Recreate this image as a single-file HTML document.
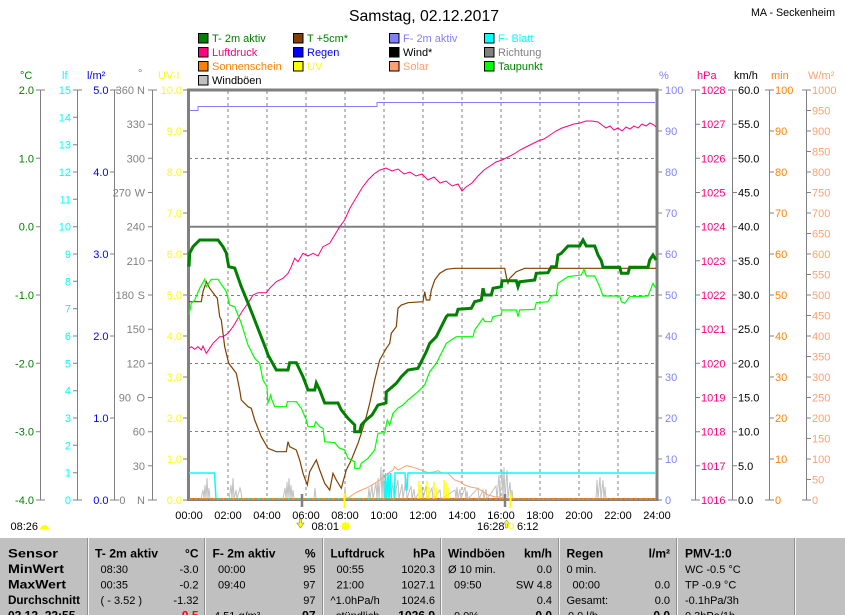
<!DOCTYPE html>
<html><head><meta charset="utf-8"><style>
html,body{margin:0;padding:0;background:#fff;}
svg{display:block;font-family:"Liberation Sans",Arial,sans-serif;}
</style></head><body>
<svg width="845" height="615" viewBox="0 0 845 615" xmlns="http://www.w3.org/2000/svg">
<rect width="845" height="615" fill="#fff"/>
<!-- title -->
<text x="349" y="21" font-size="16" textLength="150" lengthAdjust="spacingAndGlyphs">Samstag, 02.12.2017</text>
<text x="751" y="16" font-size="11" textLength="84" lengthAdjust="spacingAndGlyphs">MA - Seckenheim</text>

<!-- legend -->
<g font-size="11" stroke="#000" stroke-width="1">
<rect x="198.5" y="33.5" width="9.5" height="9.5" fill="#008000"/>
<rect x="198.5" y="47.5" width="9.5" height="9.5" fill="#FF0080"/>
<rect x="198.5" y="61.5" width="9.5" height="9.5" fill="#FF8000"/>
<rect x="198.5" y="75.5" width="9.5" height="9.5" fill="#C0C0C0"/>
<rect x="293.5" y="33.5" width="9.5" height="9.5" fill="#804000"/>
<rect x="293.5" y="47.5" width="9.5" height="9.5" fill="#0000FF"/>
<rect x="293.5" y="61.5" width="9.5" height="9.5" fill="#FFFF00"/>
<rect x="389.5" y="33.5" width="9.5" height="9.5" fill="#8080FF"/>
<rect x="389.5" y="47.5" width="9.5" height="9.5" fill="#000000"/>
<rect x="389.5" y="61.5" width="9.5" height="9.5" fill="#FFA070"/>
<rect x="484.5" y="33.5" width="9.5" height="9.5" fill="#00FFFF"/>
<rect x="484.5" y="47.5" width="9.5" height="9.5" fill="#808080"/>
<rect x="484.5" y="61.5" width="9.5" height="9.5" fill="#00FF00"/>
</g>
<g font-size="11">
<text x="212" y="42" fill="#008000">T- 2m aktiv</text>
<text x="212" y="56" fill="#FF0080">Luftdruck</text>
<text x="212" y="70" fill="#FF8000">Sonnenschein</text>
<text x="212" y="84" fill="#000">Windböen</text>
<text x="307" y="42" fill="#008000">T +5cm*</text>
<text x="307" y="56" fill="#0000FF">Regen</text>
<text x="307" y="70" fill="#FFFF00">UV</text>
<text x="403" y="42" fill="#8080FF">F- 2m aktiv</text>
<text x="403" y="56" fill="#000">Wind*</text>
<text x="403" y="70" fill="#FFA070">Solar</text>
<text x="498" y="42" fill="#00FFFF">F- Blatt</text>
<text x="498" y="56" fill="#808080">Richtung</text>
<text x="498" y="70" fill="#008000">Taupunkt</text>
</g>

<!-- axis headers -->
<g font-size="11">
<text x="20" y="79" fill="#008000">°C</text>
<text x="62" y="79" fill="#00FFFF">lf</text>
<text x="87" y="79" fill="#0000FF">l/m²</text>
<text x="138" y="77" fill="#808080">°</text>
<text x="158" y="79" fill="#FFFF00">UV-I</text>
<text x="659" y="79" fill="#8080FF">%</text>
<text x="697" y="79" fill="#FF0080">hPa</text>
<text x="734" y="79" fill="#000">km/h</text>
<text x="771" y="79" fill="#FF8000">min</text>
<text x="808" y="79" fill="#FFA070">W/m²</text>
</g>

<!-- gridlines -->
<g stroke="#808080" stroke-width="1" stroke-dasharray="3,3" fill="none">
<path d="M189,158.5H657 M189,295.5H657 M189,363.5H657 M189,431.5H657"/>
<path d="M228,91V499 M267,91V499 M306,91V499 M345,91V499 M384,91V499 M423,91V499 M462,91V499 M501,91V499 M540,91V499 M579,91V499 M618,91V499"/>
</g>
<path d="M189,226.7H657" stroke="#808080" stroke-width="2"/>

<!-- frame -->
<rect x="188.5" y="90" width="468.5" height="409.5" fill="none" stroke="#808080" stroke-width="3"/>

<!-- left axes -->
<g stroke="#808080" stroke-width="1" fill="none">
<path d="M40.5,90V500 M36,90H45 M36,500H45 M36,158.3H40 M36,226.7H40 M36,295H40 M36,363.3H40 M36,431.7H40"/>
<path d="M77.5,90V500 M73,90H82 M73,500H82 M73,117.3H77 M73,144.7H77 M73,172H77 M73,199.3H77 M73,226.7H77 M73,254H77 M73,281.3H77 M73,308.7H77 M73,336H77 M73,363.3H77 M73,390.7H77 M73,418H77 M73,445.3H77 M73,472.7H77"/>
<path d="M114.5,90V500 M110,90H119 M110,500H119 M110,172H114 M110,254H114 M110,336H114 M110,418H114"/>
<path d="M152.5,90V500 M148,90H157 M148,500H157 M148,124.2H152 M148,158.3H152 M148,192.5H152 M148,226.7H152 M148,260.8H152 M148,295H152 M148,329.2H152 M148,363.3H152 M148,397.5H152 M148,431.7H152 M148,465.8H152"/>
<path d="M183,90H188 M183,131H188 M183,172H188 M183,213H188 M183,254H188 M183,295H188 M183,336H188 M183,377H188 M183,418H188 M183,459H188 M183,500H188"/>
</g>
<g font-size="11" text-anchor="end">
<g fill="#008000">
<text x="34" y="94">2.0</text><text x="34" y="162.3">1.0</text><text x="34" y="230.7">0.0</text><text x="34" y="299">-1.0</text><text x="34" y="367.3">-2.0</text><text x="34" y="435.7">-3.0</text><text x="34" y="504">-4.0</text>
</g>
<g fill="#00FFFF">
<text x="71" y="94">15</text><text x="71" y="121.3">14</text><text x="71" y="148.7">13</text><text x="71" y="176">12</text><text x="71" y="203.3">11</text><text x="71" y="230.7">10</text><text x="71" y="258">9</text><text x="71" y="285.3">8</text><text x="71" y="312.7">7</text><text x="71" y="340">6</text><text x="71" y="367.3">5</text><text x="71" y="394.7">4</text><text x="71" y="422">3</text><text x="71" y="449.3">2</text><text x="71" y="476.7">1</text><text x="71" y="504">0</text>
</g>
<g fill="#0000FF">
<text x="108.5" y="94">5.0</text><text x="108.5" y="176">4.0</text><text x="108.5" y="258">3.0</text><text x="108.5" y="340">2.0</text><text x="108.5" y="422">1.0</text><text x="108.5" y="504">0.0</text>
</g>
<g fill="#808080">
<text x="145" y="128.2">330</text><text x="145" y="162.3">300</text><text x="145" y="230.7">240</text><text x="145" y="264.8">210</text><text x="145" y="333.2">150</text><text x="145" y="367.3">120</text><text x="145" y="435.7">60</text><text x="145" y="469.8">30</text>
<text x="145" y="94">N</text><text x="145" y="196.5">W</text><text x="145" y="299">S</text><text x="145" y="401.5">O</text><text x="145" y="504">N</text>
<text x="134" y="94">360</text><text x="131" y="196.5">270</text><text x="134" y="299">180</text><text x="131" y="401.5">90</text><text x="125.5" y="504">0</text>
</g>
<g fill="#FFFF00">
<text x="182" y="94">10.0</text><text x="182" y="135">9.0</text><text x="182" y="176">8.0</text><text x="182" y="217">7.0</text><text x="182" y="258">6.0</text><text x="182" y="299">5.0</text><text x="182" y="340">4.0</text><text x="182" y="381">3.0</text><text x="182" y="422">2.0</text><text x="182" y="463">1.0</text><text x="182" y="504">0.0</text>
</g>
</g>

<!-- right axes -->
<g stroke="#808080" stroke-width="1" fill="none">
<path d="M657,90H662 M657,131H662 M657,172H662 M657,213H662 M657,254H662 M657,295H662 M657,336H662 M657,377H662 M657,418H662 M657,459H662 M657,500H662"/>
<path d="M695.5,90V500 M691,90H700 M691,500H700 M695,124.2H700 M695,158.3H700 M695,192.5H700 M695,226.7H700 M695,260.8H700 M695,295H700 M695,329.2H700 M695,363.3H700 M695,397.5H700 M695,431.7H700 M695,465.8H700"/>
<path d="M732.5,90V500 M728,90H737 M728,500H737 M732,124.2H737 M732,158.3H737 M732,192.5H737 M732,226.7H737 M732,260.8H737 M732,295H737 M732,329.2H737 M732,363.3H737 M732,397.5H737 M732,431.7H737 M732,465.8H737"/>
<path d="M769.5,90V500 M765,90H774 M765,500H774 M769,131H774 M769,172H774 M769,213H774 M769,254H774 M769,295H774 M769,336H774 M769,377H774 M769,418H774 M769,459H774"/>
<path d="M806.5,90V500 M802,90H811 M802,500H811 M806,110.5H811 M806,131H811 M806,151.5H811 M806,172H811 M806,192.5H811 M806,213H811 M806,233.5H811 M806,254H811 M806,274.5H811 M806,295H811 M806,315.5H811 M806,336H811 M806,356.5H811 M806,377H811 M806,397.5H811 M806,418H811 M806,438.5H811 M806,459H811 M806,479.5H811"/>
</g>
<g font-size="11">
<g fill="#8080FF">
<text x="665" y="94">100</text><text x="665" y="135">90</text><text x="665" y="176">80</text><text x="665" y="217">70</text><text x="665" y="258">60</text><text x="665" y="299">50</text><text x="665" y="340">40</text><text x="665" y="381">30</text><text x="665" y="422">20</text><text x="665" y="463">10</text><text x="665" y="504">0</text>
</g>
<g fill="#FF0080">
<text x="701" y="94">1028</text><text x="701" y="128.2">1027</text><text x="701" y="162.3">1026</text><text x="701" y="196.5">1025</text><text x="701" y="230.7">1024</text><text x="701" y="264.8">1023</text><text x="701" y="299">1022</text><text x="701" y="333.2">1021</text><text x="701" y="367.3">1020</text><text x="701" y="401.5">1019</text><text x="701" y="435.7">1018</text><text x="701" y="469.8">1017</text><text x="701" y="504">1016</text>
</g>
<g fill="#000">
<text x="738" y="94">60.0</text><text x="738" y="128.2">55.0</text><text x="738" y="162.3">50.0</text><text x="738" y="196.5">45.0</text><text x="738" y="230.7">40.0</text><text x="738" y="264.8">35.0</text><text x="738" y="299">30.0</text><text x="738" y="333.2">25.0</text><text x="738" y="367.3">20.0</text><text x="738" y="401.5">15.0</text><text x="738" y="435.7">10.0</text><text x="738" y="469.8">5.0</text><text x="738" y="504">0.0</text>
</g>
<g fill="#FF8000">
<text x="775" y="94">100</text><text x="775" y="135">90</text><text x="775" y="176">80</text><text x="775" y="217">70</text><text x="775" y="258">60</text><text x="775" y="299">50</text><text x="775" y="340">40</text><text x="775" y="381">30</text><text x="775" y="422">20</text><text x="775" y="463">10</text><text x="775" y="504">0</text>
</g>
<g fill="#FFA070">
<text x="812" y="94">1000</text><text x="812" y="114.5">950</text><text x="812" y="135">900</text><text x="812" y="155.5">850</text><text x="812" y="176">800</text><text x="812" y="196.5">750</text><text x="812" y="217">700</text><text x="812" y="237.5">650</text><text x="812" y="258">600</text><text x="812" y="278.5">550</text><text x="812" y="299">500</text><text x="812" y="319.5">450</text><text x="812" y="340">400</text><text x="812" y="360.5">350</text><text x="812" y="381">300</text><text x="812" y="401.5">250</text><text x="812" y="422">200</text><text x="812" y="442.5">150</text><text x="812" y="463">100</text><text x="812" y="483.5">50</text><text x="812" y="504">0</text>
</g>
</g>

<!-- data series -->
<g fill="none" stroke-linejoin="miter">
<!-- humidity -->
<polyline stroke="#8080FF" stroke-width="1" points="190,110.5 198,110.5 198,106.5 377,106.5 377,102.5 655,102.5"/>
<!-- wind gusts -->
<polyline stroke="#C0C0C0" stroke-width="1" points="201,499 203,490 204,499 205,485 206,499 207,478 208,499 209,488 210,499 229,499 231,485 232,499 233,478 234,499 236,490 237,499 240,488 241,492 242,499 283,499 285,488 286,499 287,482 288,499 289,478 290,499 291,485 292,499 293,490 294,499 314,499 315,488 316,499 344,499 345,487 346,499 368,499 369,488 370,499 372,485 373,499 376,483 377,499 378,478 379,499 381,467 382,499 383,470 384,499 385,475 386,499 390,478 391,499 393,482 394,499 398,480 399,499 402,484 403,499 406,478 407,499 411,486 412,499 414,489 415,499 422,488 423,499 426,486 427,499 432,488 433,499 440,490 441,499 455,490 456,499 457,487 458,499 460,489 461,499 465,487 466,499 467,491 468,499 478,488 479,499 483,490 484,499 486,489 487,499 496,486 497,499 499,475 500,499 502,470 503,499 504,467 505,499 507,470 508,499 510,482 511,499 512,490 513,499 596,499 597,480 598,499 600,477 601,499 603,480 604,499 605,487 606,499"/>
<!-- UV -->
<g stroke="#FFFF00" stroke-width="1.5">
<path d="M419,499V481 M421,499V485 M427,499V481 M429,499V487 M434,499V482 M436,499V488 M444,499V480 M446,499V482 M448,499V488"/>
</g>
<!-- solar -->
<polyline stroke="#FFA070" stroke-width="1" points="344.7,499 348,498 354.7,493.3 361.3,490 368,487.3 374.7,483.3 379.7,480 384.7,476.7 388,473.3 393,470 394.7,466.7 398,470 401.3,468.3 406.3,465.7 411.3,466.7 416.3,468.3 421.3,470 428,472.7 434.7,471.7 438,470.7 441.3,472.7 448,473.3 451.3,476.7 454.7,480 459.7,481.7 464.7,485 471.3,487.3 478,488.3 483,491.7 488,495 494.7,496.7 501.3,497.3 508,499"/>
<!-- leaf wetness -->
<polyline stroke="#00FFFF" stroke-width="1.5" points="189,473 214.5,473 216,499 385,499 385.5,473 386.5,499 388,473 389,499 390.5,473 391.5,499 394.5,499 395,473 405,473 406,490 407,490 408,473 656,473"/>
<!-- pressure -->
<polyline stroke="#FF0080" stroke-width="1" points="189,348.3 191.3,346.7 194.7,349.3 198,346.7 201.3,350 203,346 206.3,353.3 209.7,348.3 213,343.3 219.7,336.7 223,336.7 228,333.3 233,326.7 238,318.3 243,310 248,303.3 253,295 258,292.7 266.3,292.7 269.7,288.3 276.3,281.7 283,278.3 288,273.3 291.3,266.7 294.7,258.3 298,261.7 303,253.3 308,256 313,253.3 318,256 323,246.7 329.7,243.3 334.7,235 339.7,226.7 344.7,220 350,208 356,198 362,188 368,180 374,174 380,170 386,168 392,171 398,169 404,174 410,172 416,176 422,174 428,180 434,177 440,183 446,181 452,186 458,184 462,191 466,187 472,183 478,176 484,170 490,166 496,162 502,160 508,157 514,154 520,150 526,147 532,144 538,141 544,139 550,135 556,131 562,128 568,126 574,124 580,123 586,121 592,121 598,122 602,125 606,128 610,126 614,130 618,128 622,131 626,127 630,129 634,126 638,128 642,124 646,126 650,123 654,125 656,127"/>
<!-- T +5cm -->
<polyline stroke="#804000" stroke-width="1.2" points="189,301.7 201.3,301.7 203,291.7 206.3,281.7 209.7,288.3 214.7,295 217.3,298.3 219.7,316.7 221.3,320 224.7,346.7 228.7,363.3 236.3,373.3 239.7,390 241.3,400 248,406.7 251.3,408.3 254.7,420 261.3,436.7 268,448.3 276.3,451.7 286.3,451.7 288,441.7 289.7,446.7 296.3,450 299.7,460 303,473.3 307.3,485 309.7,471.7 316.3,460 319.7,470 324.7,483.3 329.7,490 333,473.3 336.3,480 341.3,488.3 346.3,470 351.3,460 358,443.3 361.3,433.3 366.3,416.7 369.7,403.3 374.7,380 379.7,360 386.3,348.3 389.7,343.3 391.3,333.3 396.3,326.7 398,308.3 401.3,305 408,302.7 423,301.7 424.7,291.7 426.3,300 429.7,300 431.3,290 434.7,280 439.7,273.3 446.3,269.3 454.7,268.3 504.7,268.3 506.3,276.7 508,283.3 509.7,278.3 516.3,271.7 524.7,268.3 656,268.3"/>
<!-- dew point -->
<polyline stroke="#00FF00" stroke-width="1.2" points="189,315 191.3,303.3 194.7,300 199.7,288.3 204.7,279.3 206.3,286.7 211.3,279.3 218,279.3 223,286.7 226.3,291.7 229.7,305 234.7,306.7 241.3,323.3 248,345 254.7,358.3 259.7,363.3 263,380 267,386.7 268,403.3 270.7,395 272,400 274.7,406.7 286.3,406.7 287.3,401.7 296.3,401.7 301.3,408.3 306.3,420 308,426.7 314,426.7 315.7,421.7 319.7,426.7 323,428.3 324.7,441.7 334.7,442.7 339.7,448.3 344.7,450 348,458.3 354.7,461.7 354.7,468.3 359.7,468.3 361.3,463.3 368,458.3 374.7,450 378,433.3 384.7,432.7 387.3,420 389.7,425 393,413.3 398,408 403,405 408,400 418,391.7 424.7,385 429.7,371.7 436.3,363.3 441.3,353.3 446.3,343.3 456.3,336.7 473,336.7 474.7,330 483,318.3 484.7,321.7 491.3,321.7 493,316.7 501.3,315 502,310 516.3,310 518,316.7 519.7,310 534.7,309.3 536.3,302.7 548,301.7 551.3,296 556.3,295 558,283.3 568,276.7 581.3,275 584,269.3 586.3,276 594.7,276 599.7,286.7 603,296 619.7,296 621.3,301.7 624.7,303.3 629.7,296.7 648,296 653,283.3 656,288.3"/>
<!-- T 2m -->
<polyline stroke="#008000" stroke-width="3" points="189,266.7 189.7,253 193,246.7 199.7,240 218,240 223,246.7 226.3,253 228.7,266.7 234.7,268 241.3,286.7 248,303 254.7,320 259.7,333 266.3,350 268,355 276.3,370 288,370 289.7,362.7 296.3,362.7 303,376.7 308,390 314.7,390 316.3,383 319.7,390 324.7,403 338,403 341.3,410 348,418.3 354.7,425 354.7,431.7 359.7,431.7 361.3,425 366,420 372,415 378,405 386,403 386.3,392 396.3,383.3 401.3,376.7 408,370 418,368.3 421.3,361.7 426.3,351.7 429.7,343.3 436.3,336.7 441.3,326.7 446.3,316.7 448,315 456.3,315 458,309.3 471.3,308.3 474.7,301.7 481.3,300 483,288.3 484.7,295 491.3,295 493,288.3 501.3,286.7 502,280.7 516.3,280.7 518,286.7 519.7,281.7 534.7,280 536.3,273.3 548,272.7 551.3,266.7 556.3,266.7 558,255 561.3,253.3 568,246 579.7,246 583,240 586.3,246 594.7,246 598,255 601.3,260.7 603,267.3 619.7,267.3 621.3,273.3 628,273.3 629.7,267.3 648,267.3 649.7,260 653,255 656,260"/>
</g>
<!-- sunshine at bottom -->
<line x1="189" y1="499" x2="656" y2="499" stroke="#FF8000" stroke-width="1.5" stroke-dasharray="4,1"/>
<!-- markers below axis -->
<path d="M302,494V507 M505,494V507" stroke="#808080" stroke-width="2.5"/>
<path d="M344.5,493V508 M510.5,493V508" stroke="#FFFF00" stroke-width="2"/>

<!-- time labels -->
<g font-size="11" text-anchor="middle" fill="#000">
<text x="189" y="519">00:00</text><text x="228" y="519">02:00</text><text x="267" y="519">04:00</text><text x="306" y="519">06:00</text><text x="345" y="519">08:00</text><text x="384" y="519">10:00</text><text x="423" y="519">12:00</text><text x="462" y="519">14:00</text><text x="501" y="519">16:00</text><text x="540" y="519">18:00</text><text x="579" y="519">20:00</text><text x="618" y="519">22:00</text><text x="657" y="519">24:00</text>
</g>
<g font-size="11" fill="#000">
<text x="10.5" y="530">08:26</text>
<text x="311.5" y="530">08:01</text>
<text x="477" y="530">16:28</text>
<text x="517" y="530">6:12</text>
</g>
<path d="M40,529.5 A4.5,4.5 0 0 1 49,529.5 Z" fill="#FFFF00"/>
<path d="M299.5,519h2v4h2.5l-3.5,5l-3.5,-5h2.5z" fill="#FFFF00" stroke="#808080" stroke-width="0.6"/>
<circle cx="345.5" cy="526.3" r="3.8" fill="#FFFF00"/>
<g stroke="#FFFF00" stroke-width="1"><path d="M345.5,521V522 M345.5,530.5V531.5 M340.5,526.3H341.5 M349.5,526.3H350.5 M342,522.8l0.8,0.8 M348.2,529l0.8,0.8 M349,522.8l-0.8,0.8 M342.8,529l-0.8,0.8"/></g>
<path d="M505.5,528h2v-4h2l-3,-4l-3,4h2z" fill="#FFFF00" stroke="#808080" stroke-width="0.5"/>
<circle cx="511" cy="526" r="2.5" fill="none" stroke="#FFFF00" stroke-width="1"/>

<!-- table -->
<rect x="0" y="538" width="845" height="77" fill="#C0C0C0"/>
<g stroke-width="1">
<path d="M87.5,538V615 M204.5,538V615 M322.5,538V615 M440.5,538V615 M558.5,538V615 M676.5,538V615 M794.5,538V615" stroke="#909090"/>
<path d="M88.5,538V615 M205.5,538V615 M323.5,538V615 M441.5,538V615 M559.5,538V615 M677.5,538V615 M795.5,538V615" stroke="#F4F4F4"/>
</g>
<g font-size="12" font-weight="bold" fill="#000">
<text x="8" y="557.5" textLength="50" lengthAdjust="spacingAndGlyphs">Sensor</text>
<text x="8" y="573" textLength="56" lengthAdjust="spacingAndGlyphs">MinWert</text>
<text x="8" y="588.5" textLength="58" lengthAdjust="spacingAndGlyphs">MaxWert</text>
<text x="8" y="604" textLength="72" lengthAdjust="spacingAndGlyphs">Durchschnitt</text>
<text x="8" y="619.5">02.12. 22:55</text>
<text x="95" y="557.5" textLength="63" lengthAdjust="spacingAndGlyphs">T- 2m aktiv</text>
<text x="198.5" y="557.5" text-anchor="end">°C</text>
<text x="198.5" y="619.5" text-anchor="end" fill="#FF0000">-0.5</text>
<text x="212.5" y="557.5" textLength="63" lengthAdjust="spacingAndGlyphs">F- 2m aktiv</text>
<text x="315.5" y="557.5" text-anchor="end">%</text>
<text x="315.5" y="619.5" text-anchor="end">97</text>
<text x="330.5" y="557.5" textLength="54" lengthAdjust="spacingAndGlyphs">Luftdruck</text>
<text x="435" y="557.5" text-anchor="end">hPa</text>
<text x="435" y="619.5" text-anchor="end">1026.9</text>
<text x="448" y="557.5" textLength="57" lengthAdjust="spacingAndGlyphs">Windböen</text>
<text x="552" y="557.5" text-anchor="end">km/h</text>
<text x="552" y="619.5" text-anchor="end">0.0</text>
<text x="566.5" y="557.5">Regen</text>
<text x="670" y="557.5" text-anchor="end">l/m²</text>
<text x="670" y="619.5" text-anchor="end">0.0</text>
<text x="685" y="557.5">PMV-1:0</text>
</g>
<g font-size="11" fill="#000">
<text x="100.5" y="573">08:30</text><text x="198.5" y="573" text-anchor="end">-3.0</text>
<text x="100.5" y="588.5">00:35</text><text x="198.5" y="588.5" text-anchor="end">-0.2</text>
<text x="100.5" y="604">( - 3.52 )</text><text x="198.5" y="604" text-anchor="end">-1.32</text>
<text x="218" y="573">00:00</text><text x="315.5" y="573" text-anchor="end">95</text>
<text x="218" y="588.5">09:40</text><text x="315.5" y="588.5" text-anchor="end">97</text>
<text x="315.5" y="604" text-anchor="end">97</text>
<text x="214" y="619.5">4.51 g/m³</text>
<text x="336.5" y="573">00:55</text><text x="435" y="573" text-anchor="end">1020.3</text>
<text x="336.5" y="588.5">21:00</text><text x="435" y="588.5" text-anchor="end">1027.1</text>
<text x="330.5" y="604">^1.0hPa/h</text><text x="435" y="604" text-anchor="end">1024.6</text>
<text x="336" y="619.5">stündlich</text>
<text x="448" y="573">Ø 10 min.</text><text x="552" y="573" text-anchor="end">0.0</text>
<text x="454" y="588.5">09:50</text><text x="552" y="588.5" text-anchor="end">SW 4.8</text>
<text x="552" y="604" text-anchor="end">0.4</text>
<text x="454" y="619.5">0.0%</text>
<text x="566.5" y="573">0 min.</text>
<text x="572.5" y="588.5">00:00</text><text x="670" y="588.5" text-anchor="end">0.0</text>
<text x="566.5" y="604">Gesamt:</text><text x="670" y="604" text-anchor="end">0.0</text>
<text x="568" y="619.5">0.0 l/h</text>
<text x="685" y="573">WC -0.5 °C</text>
<text x="685" y="588.5">TP -0.9 °C</text>
<text x="685" y="604">-0.1hPa/3h</text>
<text x="685" y="619.5">0.3hPa/1h</text>
</g>
</svg>
</body></html>
